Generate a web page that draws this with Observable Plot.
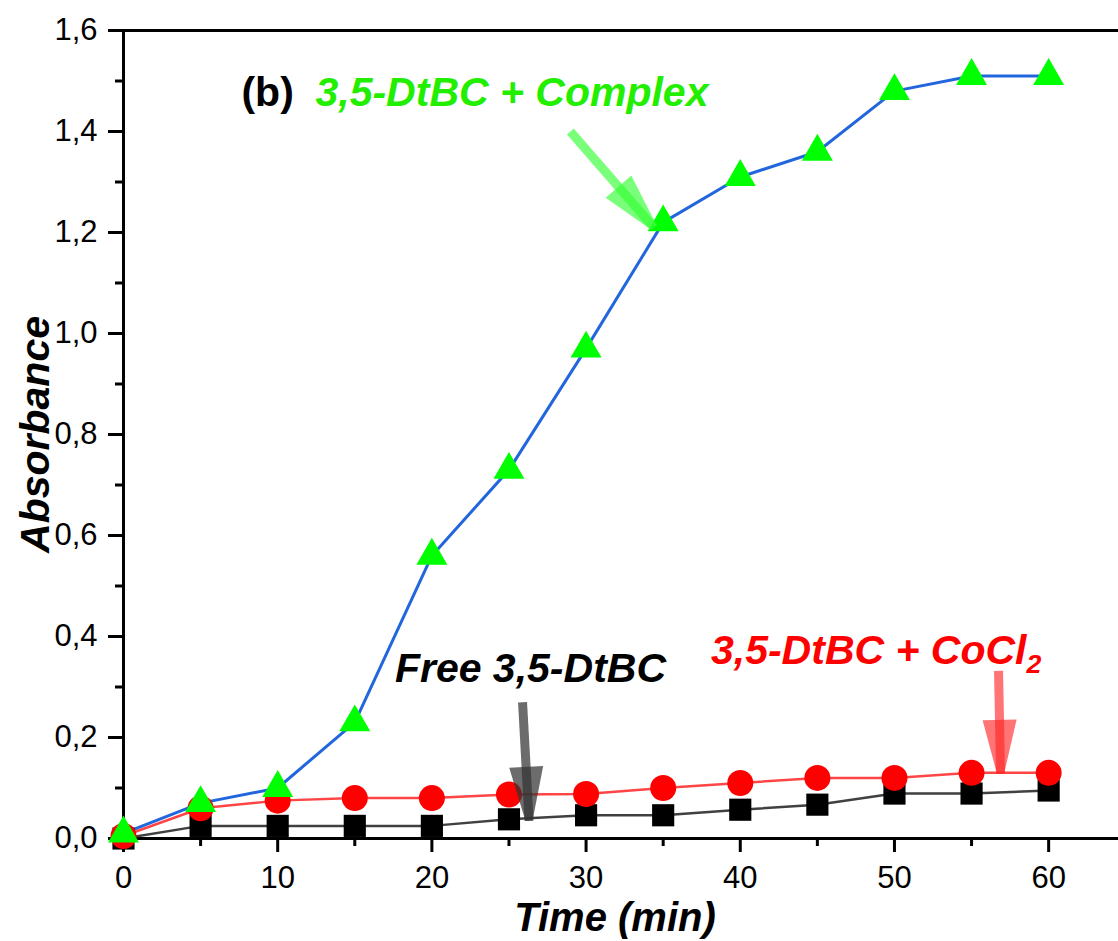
<!DOCTYPE html>
<html>
<head>
<meta charset="utf-8">
<script src="https://cdn.jsdelivr.net/npm/d3@7"></script>
<script src="https://cdn.jsdelivr.net/npm/@observablehq/plot@0.6"></script>
<style>
  html, body { margin: 0; padding: 0; background: #ffffff; }
  #chart { width: 1118px; height: 941px; }
</style>
</head>
<body>
<div id="chart"></div>
<script>
// ---- data ----
const time = [0, 5, 10, 15, 20, 25, 30, 35, 40, 45, 50, 55, 60];
const complexAbs = [0.01, 0.07, 0.10, 0.23, 0.56, 0.73, 0.97, 1.22, 1.31, 1.36, 1.48, 1.51, 1.51];
const cocl2Abs   = [0.005, 0.06, 0.075, 0.08, 0.08, 0.087, 0.088, 0.10, 0.11, 0.12, 0.12, 0.13, 0.13];
const freeAbs    = [0.0, 0.025, 0.025, 0.025, 0.025, 0.038, 0.046, 0.046, 0.057, 0.067, 0.089, 0.089, 0.095];

const xTicks = [0, 10, 20, 30, 40, 50, 60];
const xMinorTicks = [5, 15, 25, 35, 45, 55];
const yTicks = [0, 0.2, 0.4, 0.6, 0.8, 1.0, 1.2, 1.4, 1.6];
const yMinorTicks = [0.1, 0.3, 0.5, 0.7, 0.9, 1.1, 1.3, 1.5];

const labelComplex = "3,5-DtBC + Complex";
const labelFree = "Free 3,5-DtBC";
const labelCoCl2 = "3,5-DtBC + CoCl2";
const labelPanel = "(b)";

// ---- annotation anchors (data coordinates) ----
const panelPos   = {x: 7.65, y: 1.477};
const complexPos = {x: 12.45, y: 1.477};
const freePos    = {x: 17.6, y: 0.336};
const cocl2Pos   = {x: 38.1, y: 0.372};
const arrowComplex = {x1: 28.98, y1: 1.40, x2: 34.4, y2: 1.21, angle: 49};
const arrowFree    = {x1: 25.88, y1: 0.27, x2: 26.3, y2: 0.035, angle: 87};
const arrowCoCl2   = {x1: 56.75, y1: 0.332, x2: 56.88, y2: 0.128, angle: 89};

// ---- build tables ----
const rows = (vals) => time.map((t, i) => ({t, v: vals[i]}));
const complexRows = rows(complexAbs);
const cocl2Rows = rows(cocl2Abs);
const freeRows = rows(freeAbs);

// custom arrowhead symbol: tip at origin, pointing along angle (deg, screen coords)
function headSymbol(angleDeg, len, width, tipWidth) {
  const a = angleDeg * Math.PI / 180;
  const dx = Math.cos(a), dy = Math.sin(a);
  const nx = -dy, ny = dx;
  return {
    draw(ctx) {
      const bx = -len * dx, by = -len * dy;
      ctx.moveTo(tipWidth / 2 * nx, tipWidth / 2 * ny);
      ctx.lineTo(bx + width / 2 * nx, by + width / 2 * ny);
      ctx.lineTo(bx - width / 2 * nx, by - width / 2 * ny);
      ctx.lineTo(-tipWidth / 2 * nx, -tipWidth / 2 * ny);
      ctx.closePath();
    }
  };
}

function arrowMarks(a, color, opacity) {
  return [
    Plot.link([a], {x1: "x1", y1: "y1", x2: "x2", y2: "y2", stroke: color, strokeWidth: 9, strokeOpacity: opacity, strokeLinecap: "butt"}),
    Plot.dot([a], {x: "x2", y: "y2", r: 10, symbol: headSymbol(a.angle, 54, 34, 7), fill: color, fillOpacity: opacity, stroke: "none"})
  ];
}

const yFmt = (d) => d.toFixed(1).replace(".", ",");
const boldItalic = {fontWeight: "bold", fontStyle: "italic", fontSize: 41};

const chart = Plot.plot({
  width: 1118,
  height: 941,
  marginLeft: 123,
  marginRight: 0,
  marginTop: 30,
  marginBottom: 103,
  x: {domain: [0, 64.53], label: null},
  y: {domain: [0, 1.6], label: null},
  style: {fontFamily: "'Liberation Sans', Arial, sans-serif", background: "#ffffff", color: "#000000"},
  marks: [
    // frame lines
    Plot.ruleY([1.6], {stroke: "#000", strokeWidth: 3}),
    Plot.ruleY([0], {stroke: "#000", strokeWidth: 3}),
    Plot.ruleX([0], {stroke: "#000", strokeWidth: 3}),
    // axes
    Plot.axisX(xTicks, {tickSize: 14, tickPadding: 13, fontSize: 31, strokeWidth: 3, label: null, tickFormat: (d) => String(d)}),
    Plot.axisX(xMinorTicks, {tickSize: 8, text: null, strokeWidth: 3, label: null}),
    Plot.axisY(yTicks, {tickSize: 15, tickPadding: 11, fontSize: 31, strokeWidth: 3, label: null, tickFormat: yFmt}),
    Plot.axisY(yMinorTicks, {tickSize: 8, text: null, strokeWidth: 3, label: null}),
    // series lines
    Plot.line(freeRows, {x: "t", y: "v", stroke: "#404040", strokeWidth: 2.5}),
    Plot.line(cocl2Rows, {x: "t", y: "v", stroke: "#ff4545", strokeWidth: 2.5}),
    Plot.line(complexRows, {x: "t", y: "v", stroke: "#2266dd", strokeWidth: 3}),
    // markers
    Plot.dot(freeRows, {x: "t", y: "v", symbol: "square", r: 12.5, fill: "#000000"}),
    Plot.dot(cocl2Rows, {x: "t", y: "v", symbol: "circle", r: 13, fill: "#ff0000"}),
    Plot.dot(complexRows, {x: "t", y: "v", symbol: "triangle", r: 11.5, fill: "#00ff00"}),
    // arrows
    ...arrowMarks(arrowComplex, "#33ff33", 0.65),
    ...arrowMarks(arrowFree, "#333333", 0.72),
    ...arrowMarks(arrowCoCl2, "#ff2a2a", 0.65),
    // annotation labels
    Plot.text([labelPanel], {x: () => panelPos.x, y: () => panelPos.y, text: (d) => d, textAnchor: "start", lineAnchor: "middle", fontWeight: "bold", fontSize: 41, fill: "#000"}),
    Plot.text([labelComplex], {x: () => complexPos.x, y: () => complexPos.y, text: (d) => d, textAnchor: "start", lineAnchor: "middle", fill: "#22ee00", ...boldItalic}),
    Plot.text([labelFree], {x: () => freePos.x, y: () => freePos.y, text: (d) => d, textAnchor: "start", lineAnchor: "middle", fill: "#000", ...boldItalic}),
    Plot.text([labelCoCl2], {x: () => cocl2Pos.x, y: () => cocl2Pos.y, text: (d) => d, textAnchor: "start", lineAnchor: "middle", fill: "#ff0000", ...boldItalic}),
    // axis titles
    Plot.text(["Time (min)"], {frameAnchor: "bottom", dy: 80, dx: -6, text: (d) => d, textAnchor: "middle", lineAnchor: "middle", fill: "#000", fontWeight: "bold", fontStyle: "italic", fontSize: 40}),
    Plot.text(["Absorbance"], {frameAnchor: "left", dx: -88, rotate: -90, text: (d) => d, textAnchor: "middle", lineAnchor: "middle", fill: "#000", fontWeight: "bold", fontStyle: "italic", fontSize: 41})
  ]
});

// subscript for CoCl2
d3.select(chart).selectAll("text").each(function () {
  if (this.textContent === labelCoCl2) {
    const t = d3.select(this);
    t.text("3,5-DtBC + CoCl");
    t.append("tspan").attr("font-size", "0.65em").attr("dy", "0.35em").text("2");
  }
});

document.getElementById("chart").appendChild(chart);
</script>
</body>
</html>
